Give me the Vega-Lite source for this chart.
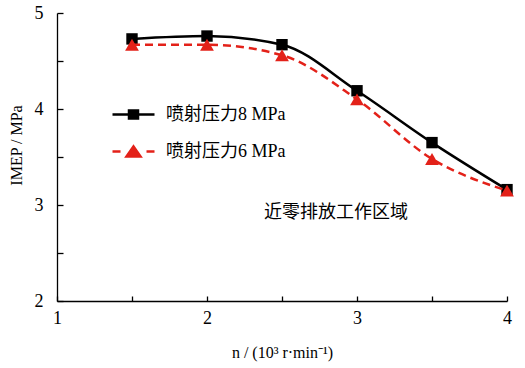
{
  "$schema": "https://vega.github.io/schema/vega-lite/v6.json",
  "autosize": "none",
  "width": 450,
  "height": 288,
  "padding": {"left": 57, "top": 13, "right": 18, "bottom": 67},
  "background": "white",
  "config": {
    "view": {"stroke": null},
    "font": "Liberation Serif",
    "axis": {
      "grid": false,
      "domainColor": "black",
      "domainWidth": 1.3,
      "tickColor": "black",
      "tickWidth": 1.3,
      "labelFont": "Liberation Serif",
      "labelFontSize": 18,
      "labelColor": "black",
      "titleFont": "Liberation Serif",
      "titleFontSize": 16,
      "titleFontWeight": "normal",
      "titleColor": "black"
    }
  },
  "datasets": {
    "series": [
      {"n": 1.5, "imep": 4.73, "series": "喷射压力8 MPa"},
      {"n": 2.0, "imep": 4.76, "series": "喷射压力8 MPa"},
      {"n": 2.5, "imep": 4.67, "series": "喷射压力8 MPa"},
      {"n": 3.0, "imep": 4.19, "series": "喷射压力8 MPa"},
      {"n": 3.5, "imep": 3.65, "series": "喷射压力8 MPa"},
      {"n": 4.0, "imep": 3.16, "series": "喷射压力8 MPa"},
      {"n": 1.5, "imep": 4.67, "series": "喷射压力6 MPa"},
      {"n": 2.0, "imep": 4.67, "series": "喷射压力6 MPa"},
      {"n": 2.5, "imep": 4.56, "series": "喷射压力6 MPa"},
      {"n": 3.0, "imep": 4.10, "series": "喷射压力6 MPa"},
      {"n": 3.5, "imep": 3.48, "series": "喷射压力6 MPa"},
      {"n": 4.0, "imep": 3.15, "series": "喷射压力6 MPa"}
    ],
    "note": [
      {"n": 2.86, "imep": 2.92, "label": "近零排放工作区域"}
    ]
  },
  "resolve": {"axis": {"x": "independent", "y": "independent"}},
  "layer": [
    {
      "encoding": {
        "x": {
          "field": "n", "type": "quantitative",
          "scale": {"domain": [1, 4], "nice": false, "zero": false},
          "axis": {
            "values": [1, 2, 3, 4],
            "format": "d",
            "ticks": false,
            "tickSize": 0,
            "labelPadding": 8,
            "labelFlush": false,
            "title": "n / (10³ r·min⁻¹)",
            "titleY": 51,
            "titleBaseline": "middle"
          }
        },
        "y": {
          "field": "imep", "type": "quantitative",
          "scale": {"domain": [2, 5], "nice": false, "zero": false},
          "axis": {
            "values": [2, 3, 4, 5],
            "format": "d",
            "ticks": false,
            "tickSize": 0,
            "labelPadding": 14,
            "title": "IMEP / MPa",
            "titleX": -41,
            "titleY": 132,
            "titleAlign": "center",
            "titleBaseline": "middle",
            "titleAngle": -90
          }
        }
      },
      "layer": [
        {
          "data": {"name": "series"},
          "transform": [{"filter": "datum.series === '喷射压力8 MPa'"}],
          "mark": {"type": "line", "interpolate": "monotone", "strokeWidth": 2.5},
          "encoding": {
            "color": {
              "field": "series", "type": "nominal",
              "scale": {"domain": ["喷射压力8 MPa", "喷射压力6 MPa"], "range": ["#000000", "#e32119"]},
              "legend": {
                "orient": "none",
                "legendX": 65,
                "legendY": 90,
                "title": null,
                "padding": 0,
                "symbolSize": 400,
                "symbolStrokeWidth": 2.5,
                "rowPadding": 16,
                "labelOffset": 21,
                "labelFont": "Liberation Serif, Noto Sans CJK SC",
                "labelFontSize": 18,
                "labelColor": "black",
                "labelLimit": 300,
                "encode": {
                  "symbols": {
                    "update": {
                      "shape": {"signal": "datum.value === '喷射压力8 MPa' ? 'M-2.1,0H2.1M-0.45,-0.4H0.45V0.4H-0.45Z' : 'M-2.1,0H-1.3M1.3,0H2.1M0,-0.5L0.7,0.5H-0.7Z'"},
                      "fill": {"signal": "datum.value === '喷射压力8 MPa' ? '#000000' : '#e32119'"},
                      "stroke": {"signal": "datum.value === '喷射压力8 MPa' ? '#000000' : '#e32119'"},
                      "strokeDash": {"value": []},
                      "opacity": {"value": 1}
                    }
                  }
                }
              }
            }
          }
        },
        {
          "data": {"name": "series"},
          "transform": [{"filter": "datum.series === '喷射压力8 MPa'"}],
          "mark": {"type": "point", "shape": "square", "filled": true, "size": 130, "opacity": 1},
          "encoding": {"color": {"field": "series", "type": "nominal"}}
        },
        {
          "data": {"name": "series"},
          "transform": [{"filter": "datum.series === '喷射压力6 MPa'"}],
          "mark": {"type": "line", "interpolate": "monotone", "strokeWidth": 2.5, "strokeDash": [8, 5]},
          "encoding": {"color": {"field": "series", "type": "nominal"}}
        },
        {
          "data": {"name": "series"},
          "transform": [{"filter": "datum.series === '喷射压力6 MPa'"}],
          "mark": {"type": "point", "shape": "triangle-up", "filled": true, "size": 190, "opacity": 1},
          "encoding": {"color": {"field": "series", "type": "nominal"}}
        }
      ]
    },
    {
      "data": {"name": "note"},
      "mark": {"type": "text", "font": "Liberation Serif, Noto Sans CJK SC", "fontSize": 18, "color": "black", "align": "center", "baseline": "middle"},
      "encoding": {
        "x": {
          "field": "n", "type": "quantitative",
          "axis": {
            "orient": "bottom",
            "values": [1, 1.5, 2, 2.5, 3, 3.5, 4],
            "offset": -5,
            "tickSize": 5,
            "domain": false,
            "labels": false,
            "title": null
          }
        },
        "y": {
          "field": "imep", "type": "quantitative",
          "axis": {
            "orient": "left",
            "values": [2, 2.5, 3, 3.5, 4, 4.5, 5],
            "offset": -6,
            "tickSize": 6,
            "domain": false,
            "labels": false,
            "title": null
          }
        },
        "text": {"field": "label"}
      }
    }
  ]
}
